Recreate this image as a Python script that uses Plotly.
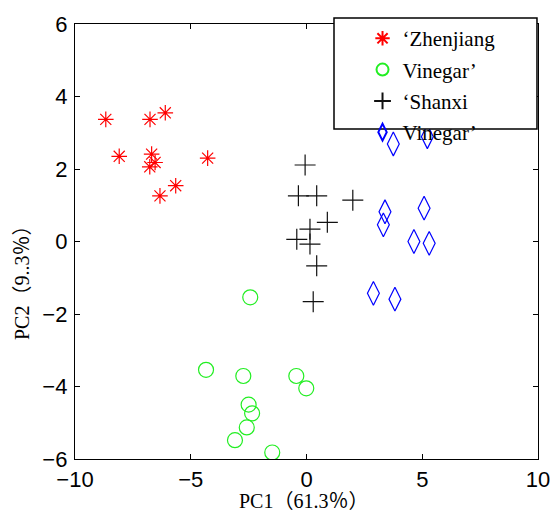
import plotly.graph_objects as go

# PCA scores
zj_x = [-8.67, -6.76, -6.10, -8.09, -6.69, -6.54, -6.77, -4.27, -5.65, -6.33]
zj_y = [3.37, 3.37, 3.55, 2.35, 2.41, 2.18, 2.06, 2.30, 1.54, 1.26]

vin_x = [-2.43, -4.34, -2.73, -0.44, -0.01, -2.50, -2.35, -2.58, -3.09, -1.48]
vin_y = [-1.54, -3.54, -3.71, -3.71, -4.05, -4.50, -4.74, -5.13, -5.48, -5.82]

sx_x = [-0.06, -0.35, 0.44, 2.00, 0.90, 0.15, -0.42, 0.15, 0.44, 0.29]
sx_y = [2.11, 1.26, 1.26, 1.14, 0.53, 0.34, 0.06, -0.07, -0.67, -1.66]

v2_x = [3.75, 5.22, 3.39, 3.32, 5.08, 4.64, 5.30, 2.89, 3.82]
v2_y = [2.69, 2.89, 0.82, 0.46, 0.92, 0.00, -0.05, -1.43, -1.59]

legend_names = ["\u2018Zhenjiang", "Vinegar\u2019", "\u2018Shanxi", "Vinegar\u2019"]
x_ticks = [-10, -5, 0, 5, 10]
y_ticks = [-6, -4, -2, 0, 2, 4, 6]

fig = go.Figure()
fig.add_trace(go.Scatter(x=zj_x, y=zj_y, mode="markers", name=legend_names[0], legendgroup="a",
                         marker=dict(symbol="asterisk-open", size=13, color="#ff0000",
                                     line=dict(color="#ff0000", width=1.2))))
fig.add_trace(go.Scatter(x=vin_x, y=vin_y, mode="markers", name=legend_names[1], legendgroup="b",
                         marker=dict(symbol="circle-open", size=15, color="#22ee22",
                                     line=dict(color="#22ee22", width=1.2))))
fig.add_trace(go.Scatter(x=sx_x, y=sx_y, mode="markers", name=legend_names[2], legendgroup="c",
                         marker=dict(symbol="cross-thin-open", size=15, color="#111111",
                                     line=dict(color="#111111", width=1.2))))
fig.add_trace(go.Scatter(x=v2_x, y=v2_y, mode="markers", name=legend_names[3], legendgroup="d",
                         marker=dict(symbol="diamond-tall-open", size=17, color="#0000ff",
                                     line=dict(color="#0000ff", width=1.2))))

tickfont = dict(family="Liberation Sans, Arial", size=22, color="black")
serif = "Liberation Serif, Times New Roman, Noto Sans CJK SC, serif"

axis_common = dict(showline=True, linecolor="black", linewidth=1.3, mirror="ticks",
                   ticks="inside", ticklen=5, tickcolor="black", tickwidth=1,
                   showgrid=False, zeroline=False, tickfont=tickfont, automargin=False)

fig.update_layout(
    width=552, height=512,
    margin=dict(l=75, r=14, t=24, b=53, autoexpand=False),
    paper_bgcolor="white", plot_bgcolor="white",
    xaxis=dict(range=[-10, 10], tickvals=x_ticks, **axis_common),
    yaxis=dict(range=[-6, 6], tickvals=y_ticks, ticklabelstandoff=2, **axis_common),
    showlegend=True,
    legend=dict(x=0.621, y=1.0135, xanchor="left", yanchor="top",
                bgcolor="rgba(0,0,0,0)", borderwidth=0,
                font=dict(family=serif, size=21, color="black"),
                traceorder="grouped", tracegroupgap=1, itemsizing="constant"),
    shapes=[dict(type="rect", xref="paper", yref="paper", layer="above",
                 x0=0.5594, x1=0.9978, y0=0.7586, y1=1.0138,
                 fillcolor="white", line=dict(color="black", width=1.5))],
    annotations=[
        dict(text="PC1\uff0861.3\uff05\uff09", xref="paper", yref="paper",
             x=(303 - 75) / 463, y=(459 - 501) / 435, showarrow=False,
             xanchor="center", yanchor="middle",
             font=dict(family=serif, size=20, color="black")),
        dict(text="PC2\uff089..3\uff05\uff09", xref="paper", yref="paper",
             x=(22 - 75) / 463, y=(459 - 278) / 435, showarrow=False, textangle=-90,
             xanchor="center", yanchor="middle",
             font=dict(family=serif, size=20, color="black")),
    ],
)

fig.write_html("out.html", config={"displayModeBar": False},
               post_script="document.body.style.margin='0';")
